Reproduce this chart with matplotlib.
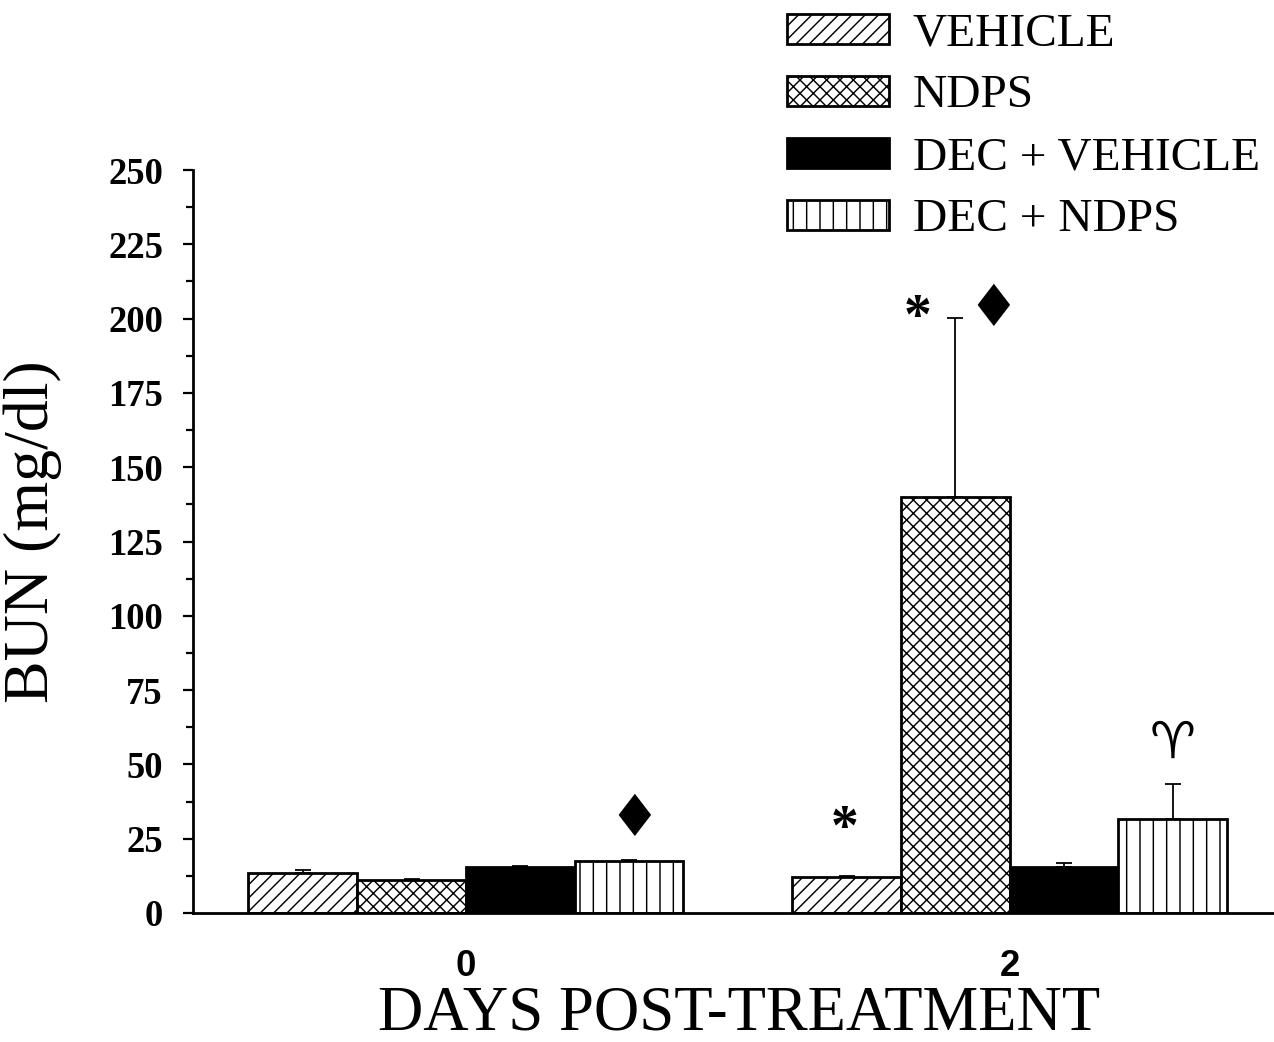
import matplotlib.pyplot as plt
import numpy as np

plt.rcParams['font.family'] = ['Liberation Serif', 'DejaVu Serif']
plt.rcParams['hatch.linewidth'] = 1.3

days = ['0', '2']
groups = ['VEHICLE', 'NDPS', 'DEC + VEHICLE', 'DEC + NDPS']
# BUN means per group, one list per day
bun_day0 = [13.6, 11.1, 15.4, 17.6]
bun_day2 = [12.0, 139.9, 15.6, 31.6]
err_day0 = [0.8, 0.3, 0.3, 0.3]
err_day2 = [0.3, 60.3, 1.1, 11.8]

hatches = ['//', 'xx', '', '|']
faces = ['white', 'white', 'black', 'white']

# marks: (day index, x offset in bar widths, y value, text, font, size)
marks = [
    (0, 1.55, 31.5, '\u2666', 'DejaVu Sans', 52),
    (1, -1.52, 28, '*', 'Liberation Serif', 50),
    (1, -0.85, 200, '*', 'Liberation Serif', 50),
    (1, -0.15, 203, '\u2666', 'DejaVu Sans', 52),
    (1, 1.5, 57, '\u2648', 'DejaVu Sans', 46),
]

fig = plt.figure(figsize=(1274 / 80, 1042 / 80), dpi=80)
ax = fig.add_axes([193 / 1274, 1 - 913 / 1042, 1 - 193 / 1274, 743 / 1042])

centers = np.array([0, 5])
w = 1.0
for i, g in enumerate(groups):
    vals = [bun_day0[i], bun_day2[i]]
    errs = [err_day0[i], err_day2[i]]
    x = centers + (i - 1.5) * w
    ax.bar(x, vals, width=w, color=faces[i], edgecolor='black', linewidth=2.5,
           hatch=hatches[i], label=g, zorder=2)
    ax.errorbar(x, vals, yerr=[np.zeros(2), errs], fmt='none', ecolor='black',
                elinewidth=1.6, capsize=7, capthick=1.6, zorder=1)

for d, off, y, s, fam, sz in marks:
    ax.text(centers[d] + off * w, y, s, family=fam, fontsize=sz,
            fontweight='bold', ha='center', va='center')

ax.set_xlim(-2.51, 7.43)
ax.set_ylim(0, 250)
ax.set_yticks(np.arange(0, 251, 25))
ax.set_yticks(np.arange(12.5, 250, 25), minor=True)
ax.set_xticks(centers)
ax.set_xticklabels(days, family='Liberation Sans', fontweight='bold', fontsize=33)
ax.tick_params(axis='x', length=0, pad=32)
ax.tick_params(axis='y', which='major', length=9, width=2, pad=18, labelsize=33)
ax.tick_params(axis='y', which='minor', length=6, width=2)
for lab in ax.get_yticklabels():
    lab.set_fontweight('bold')

ax.spines['top'].set_visible(False)
ax.spines['right'].set_visible(False)
ax.spines['left'].set_linewidth(2.5)
ax.spines['bottom'].set_linewidth(2.5)

ax.set_ylabel('BUN (mg/dl)', fontsize=57.5)
ax.yaxis.set_label_coords(-0.121, 0.513)
ax.set_xlabel('DAYS POST-TREATMENT', fontsize=56.5, va='baseline')
ax.xaxis.set_label_coords(0.505, -0.157)

ax.legend(loc='upper left', bbox_to_anchor=(787 / 1274, 1 - 13 / 1042),
          bbox_transform=fig.transFigure, frameon=False, fontsize=42.7,
          handlelength=2.15, handleheight=0.6, handletextpad=0.5,
          labelspacing=0.41, borderpad=0, borderaxespad=0)

fig.savefig('out.png', dpi=80)
